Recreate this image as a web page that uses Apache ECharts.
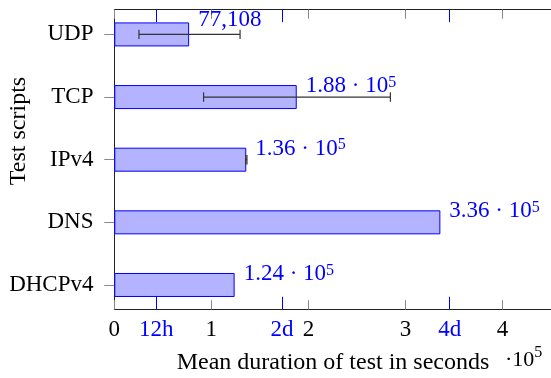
<!DOCTYPE html>
<html>
<head>
<meta charset="utf-8">
<script src="https://cdn.jsdelivr.net/npm/echarts@6/dist/echarts.min.js"></script>
<style>
  html, body { margin: 0; padding: 0; background: #fff; }
  #chart { width: 551px; height: 378px; }
</style>
</head>
<body>
<div id="chart"></div>
<script>
// test scripts, top to bottom
var categories = ['UDP', 'TCP', 'IPv4', 'DNS', 'DHCPv4'];
// mean duration in seconds
var durations = [77108, 188000, 136000, 336000, 124000];
// error bar ends (null = no error bar)
var errLow = [25400, 92000, 135300, null, null];
var errHigh = [129600, 284500, 136700, null, null];
// x ticks: plain numbers (x 10^5) and time marks
var numTicks = [0, 100000, 200000, 300000, 400000];
var timeTicks = [43200, 172800, 345600];
var timeLabels = ['12h', '2d', '4d'];

var SERIF = "'Liberation Serif', 'DejaVu Serif', serif";
var BLUE = '#0000ff';
var XMAX = 450000;
var LEFT = 114.3, WIDTH = 437.3;

var chart = echarts.init(document.getElementById('chart'));

function fmtValue(v) {
  if (v < 1e5) return v.toLocaleString('en-US');
  return (v / 1e5).toFixed(2) + ' \u00b7 10{sup|5}';
}

var barData = durations.map(function (v) {
  return {
    value: v,
    label: { offset: [0, v < 1e5 ? -14.5 : -11] }
  };
});

var errData = [];
for (var i = 0; i < categories.length; i++) {
  if (errLow[i] != null) errData.push([i, errLow[i], errHigh[i]]);
}

var option = {
  animation: false,
  textStyle: { fontFamily: SERIF },
  grid: [
    // frame + grey ticks
    { left: LEFT, top: 9.5, width: WIDTH, height: 300 },
    // bars
    { left: LEFT, top: 3.1, width: WIDTH, height: 313.2 },
    // blue time ticks
    { left: LEFT, top: 9.5, width: WIDTH, height: 300 }
  ],
  xAxis: [
    {
      gridIndex: 0, type: 'value', position: 'bottom', min: 0, max: XMAX, interval: 100000,
      axisLine: { lineStyle: { color: '#222', width: 1 } },
      axisTick: { inside: true, length: 9.3, lineStyle: { color: '#888' }, customValues: numTicks },
      axisLabel: {
        customValues: numTicks, margin: 9, color: '#000', fontSize: 23, fontFamily: SERIF,
        formatter: function (v) { return String(v / 1e5); }
      },
      splitLine: { show: false }
    },
    {
      gridIndex: 0, type: 'value', position: 'top', min: 0, max: XMAX, interval: 100000,
      axisLine: { lineStyle: { color: '#222', width: 1 } },
      axisTick: { inside: true, length: 9.3, lineStyle: { color: '#888' }, customValues: numTicks },
      axisLabel: { show: false },
      splitLine: { show: false }
    },
    {
      gridIndex: 2, type: 'value', position: 'bottom', min: 0, max: XMAX,
      axisLine: { show: false },
      axisTick: { inside: true, length: 12.7, lineStyle: { color: BLUE }, customValues: timeTicks },
      axisLabel: {
        customValues: timeTicks, margin: 9, color: BLUE, fontSize: 23, fontFamily: SERIF,
        formatter: function (v) { return timeLabels[timeTicks.indexOf(v)]; }
      },
      splitLine: { show: false }
    },
    {
      gridIndex: 2, type: 'value', position: 'top', min: 0, max: XMAX,
      axisLine: { show: false },
      axisTick: { inside: true, length: 12.7, lineStyle: { color: BLUE }, customValues: timeTicks },
      axisLabel: { show: false },
      splitLine: { show: false }
    },
    {
      gridIndex: 1, type: 'value', min: 0, max: XMAX, show: false
    }
  ],
  yAxis: [
    {
      gridIndex: 0, type: 'value', position: 'left',
      axisLine: { show: true, lineStyle: { color: '#222', width: 1 } },
      axisTick: { show: false }, axisLabel: { show: false }, splitLine: { show: false }
    },
    { gridIndex: 2, type: 'value', show: false },
    {
      gridIndex: 1, type: 'category', inverse: true, data: categories,
      axisLine: { show: false },
      axisTick: { show: true, alignWithLabel: true, length: 10, lineStyle: { color: '#888' } },
      axisLabel: { color: '#000', fontSize: 23, fontFamily: SERIF, margin: 20.8 }
    }
  ],
  series: [
    {
      type: 'bar', xAxisIndex: 4, yAxisIndex: 2, barWidth: 24,
      data: barData,
      itemStyle: { color: '#b3b3ff', borderColor: BLUE, borderWidth: 1 },
      label: {
        show: true, position: 'right', distance: 9,
        color: BLUE, fontSize: 23, fontFamily: SERIF,
        formatter: function (p) { return fmtValue(p.value); },
        rich: {
          sup: { fontSize: 16, color: BLUE, fontFamily: SERIF, verticalAlign: 'top' }
        }
      },
      z: 2
    },
    {
      type: 'custom', xAxisIndex: 4, yAxisIndex: 2,
      data: errData,
      encode: { x: [1, 2], y: 0 },
      renderItem: function (params, api) {
        var a = api.coord([api.value(1), api.value(0)]);
        var b = api.coord([api.value(2), api.value(0)]);
        var h = 4.7;
        var st = { stroke: '#333', lineWidth: 1.2 };
        return {
          type: 'group',
          children: [
            { type: 'line', shape: { x1: a[0], y1: a[1], x2: b[0], y2: b[1] }, style: st },
            { type: 'line', shape: { x1: a[0], y1: a[1] - h, x2: a[0], y2: a[1] + h }, style: st },
            { type: 'line', shape: { x1: b[0], y1: b[1] - h, x2: b[0], y2: b[1] + h }, style: st }
          ]
        };
      },
      z: 3
    }
  ],
  graphic: [
    {
      type: 'text', x: 19, y: 131, rotation: Math.PI / 2,
      style: {
        text: 'Test scripts', fill: '#000', font: '24px ' + SERIF,
        align: 'center', verticalAlign: 'middle'
      }
    },
    {
      type: 'text', x: 333, y: 363,
      style: {
        text: 'Mean duration of test in seconds', fill: '#000', font: '24px ' + SERIF,
        align: 'center', verticalAlign: 'middle'
      }
    },
    {
      type: 'text', x: 505, y: 358,
      style: {
        text: '{b|\u00b710}{s|5}', fill: '#000',
        align: 'left', verticalAlign: 'middle',
        rich: {
          b: { fontSize: 22, fontFamily: SERIF, fill: '#000', verticalAlign: 'bottom', padding: [5, 0, 0, 0] },
          s: { fontSize: 16, fontFamily: SERIF, fill: '#000', verticalAlign: 'top' }
        }
      }
    }
  ]
};

chart.setOption(option);
</script>
</body>
</html>
